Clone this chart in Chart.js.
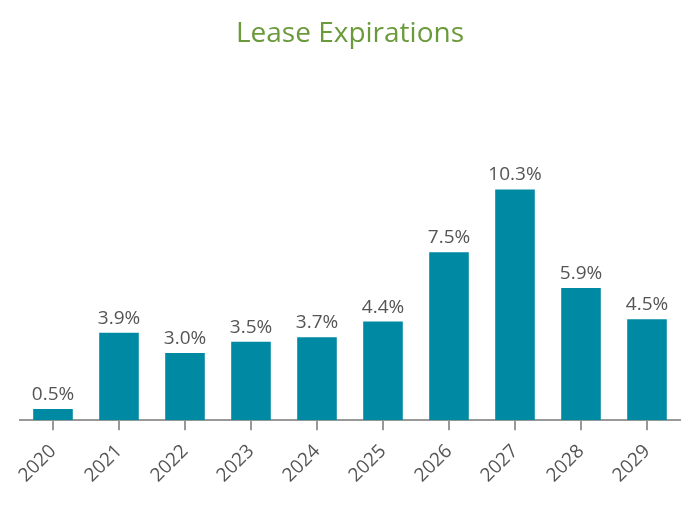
<!DOCTYPE html>
<html>
<head>
<meta charset="utf-8">
<script src="https://cdn.jsdelivr.net/npm/chart.js@4/dist/chart.umd.min.js"></script>
<style>
    html, body { margin: 0; padding: 0; background: #fff; }
    #wrap { width: 700px; height: 506px; }
</style>
</head>
<body>
<div id="wrap"><canvas id="leaseChart" width="700" height="506"></canvas></div>
<script>
// Lease expiration data (% of total)
const years = ['2020', '2021', '2022', '2023', '2024', '2025', '2026', '2027', '2028', '2029'];
const expiringPct = [0.5, 3.9, 3.0, 3.5, 3.7, 4.4, 7.5, 10.3, 5.9, 4.5];

// Draws the value above each bar
const valueLabels = {
    id: 'valueLabels',
    afterDatasetsDraw(chart) {
        const ctx = chart.ctx;
        const meta = chart.getDatasetMeta(0);
        ctx.save();
        ctx.font = '19px "Open Sans", sans-serif';
        ctx.fillStyle = '#555555';
        ctx.textAlign = 'center';
        ctx.textBaseline = 'bottom';
        meta.data.forEach((bar, i) => {
            ctx.fillText(expiringPct[i].toFixed(1) + '%', bar.x, bar.y - 5);
        });
        ctx.restore();
    }
};

new Chart(document.getElementById('leaseChart'), {
    type: 'bar',
    data: {
        labels: years,
        datasets: [{
            data: expiringPct,
            backgroundColor: '#0089a3',
            barPercentage: 0.6,
            categoryPercentage: 1.0,
        }],
    },
    options: {
        responsive: false,
        animation: false,
        layout: {
            padding: { left: 20, right: 20, top: 0, bottom: 9 },
        },
        scales: {
            x: {
                grid: {
                    display: true,
                    drawOnChartArea: false,
                    drawTicks: true,
                    offset: false,
                    tickLength: 10,
                    color: '#999999',
                    lineWidth: 2,
                },
                border: { display: true, color: '#999999', width: 2 },
                ticks: {
                    color: '#555555',
                    font: { family: '"Open Sans", sans-serif', size: 19 },
                    minRotation: 45,
                    maxRotation: 45,
                    padding: 10,
                },
            },
            y: {
                display: false,
                min: 0,
                max: 14,
            },
        },
        plugins: {
            legend: { display: false },
            tooltip: { enabled: false },
            title: {
                display: true,
                text: 'Lease Expirations',
                color: '#6b9a3c',
                font: { family: '"Open Sans", sans-serif', size: 28, weight: 'normal' },
                padding: { top: 17, bottom: 56 },
            },
        },
    },
    plugins: [valueLabels],
});
</script>
</body>
</html>
